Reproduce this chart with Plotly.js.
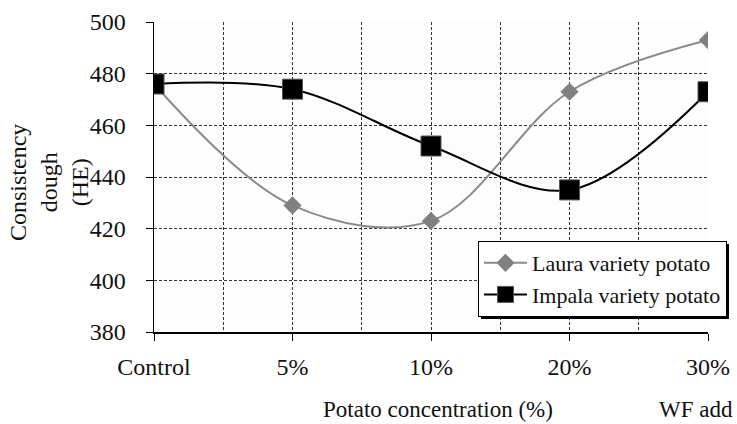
<!DOCTYPE html>
<html>
<head>
<meta charset="utf-8">
<script src="https://cdn.plot.ly/plotly-3.0.1.min.js"></script>
<style>
  html, body { margin: 0; padding: 0; background: #fff; }
  #chart { width: 737px; height: 424px; }
</style>
</head>
<body>
<div id="chart"></div>
<script>
// Dough consistency (HE) by potato flour concentration
const categories = ['Control', '5%', '10%', '20%', '30%'];
const lauraValues = [476, 429, 423, 473, 493];
const impalaValues = [476, 474, 452, 435, 473];
const yTickValues = [380, 400, 420, 440, 460, 480, 500];

const xIndex = categories.map((_, i) => i);
const serif = '"Liberation Serif", "Times New Roman", Times, serif';
const gridDash = '3px,2px';

const traces = [
  {
    name: 'Laura variety potato',
    legendgroup: 'laura',
    x: xIndex,
    y: lauraValues,
    mode: 'lines+markers',
    line: { color: '#8a8a8a', width: 2, shape: 'spline', smoothing: 1 },
    marker: { symbol: 'diamond', size: 14, color: '#808080' }
  },
  {
    name: 'Impala variety potato',
    legendgroup: 'impala',
    x: xIndex,
    y: impalaValues,
    mode: 'lines+markers',
    line: { color: '#000000', width: 2, shape: 'spline', smoothing: 1 },
    marker: { symbol: 'square', size: 20, color: '#000000', line: { color: '#555', width: 1 } }
  }
];

const plotL = 154, plotR = 708, plotT = 22, plotB = 332;
const W = 737, H = 424;
const pw = plotR - plotL, ph = plotB - plotT;
// legend anchor in paper units
const legX = (478 - plotL) / pw, legY = (plotB - 241) / ph;

const layout = {
  width: W, height: H,
  margin: { l: plotL, r: W - plotR, t: plotT, b: H - plotB, autoexpand: false },
  paper_bgcolor: '#ffffff',
  plot_bgcolor: '#fdfdfd',
  font: { family: serif, color: '#111', size: 22 },
  showlegend: true,
  xaxis: {
    type: 'linear',
    range: [0, xIndex.length - 1],
    tickvals: xIndex,
    ticktext: categories,
    ticks: 'outside', ticklen: 7, tickcolor: '#000', tickwidth: 1,
    showline: true, linecolor: '#000', linewidth: 1.5,
    showgrid: true, gridcolor: '#333', griddash: gridDash, gridwidth: 1,
    minor: { dtick: 0.5, tick0: 0, showgrid: true, gridcolor: '#333', griddash: gridDash, gridwidth: 1, ticks: '' },
    zeroline: false,
    automargin: false,
    tickfont: { family: serif, size: 24, color: '#111' },
    ticklabelstandoff: 6,
    fixedrange: true
  },
  yaxis: {
    range: [380, 500],
    tickvals: yTickValues,
    ticks: 'outside', ticklen: 7, tickcolor: '#000', tickwidth: 1,
    showline: true, linecolor: '#000', linewidth: 1.5,
    showgrid: true, gridcolor: '#333', griddash: gridDash, gridwidth: 1,
    zeroline: false,
    automargin: false,
    tickfont: { family: serif, size: 24, color: '#111' },
    ticklabelstandoff: 15,
    fixedrange: true
  },
  legend: {
    x: legX, y: legY, xanchor: 'left', yanchor: 'top',
    bgcolor: '#ffffff', bordercolor: '#000', borderwidth: 1,
    font: { family: serif, size: 22, color: '#111' },
    traceorder: 'grouped', tracegroupgap: 0,
    itemwidth: 43
  },
  annotations: [
    {
      text: 'Consistency<br>dough<br>(HE)', textangle: -90,
      xref: 'paper', yref: 'paper', x: (49 - plotL) / pw, y: (plotB - 183) / ph,
      xanchor: 'center', yanchor: 'middle', showarrow: false,
      font: { family: serif, size: 24, color: '#111' }
    },
    {
      text: 'Potato concentration (%)',
      xref: 'paper', yref: 'paper', x: (438 - plotL) / pw, y: (plotB - 409) / ph,
      xanchor: 'center', yanchor: 'middle', showarrow: false,
      font: { family: serif, size: 23, color: '#111' }
    },
    {
      text: 'WF add',
      xref: 'paper', yref: 'paper', x: (696 - plotL) / pw, y: (plotB - 409) / ph,
      xanchor: 'center', yanchor: 'middle', showarrow: false,
      font: { family: serif, size: 23, color: '#111' }
    }
  ]
};

// Drop shadow behind the legend box, sized from the rendered legend
Plotly.newPlot('chart', traces, layout, { displayModeBar: false, staticPlot: true }).then(gd => {
  const bg = gd.querySelector('.legend .bg');
  if (!bg) return;
  const box = bg.getBBox();
  const sh = 3;
  const x0 = legX + sh / pw, y1 = legY - sh / ph;
  return Plotly.relayout(gd, {
    shapes: [{
      type: 'rect', xref: 'paper', yref: 'paper', layer: 'above',
      x0: x0, x1: x0 + box.width / pw,
      y0: y1 - box.height / ph, y1: y1,
      fillcolor: '#000', line: { width: 0 }
    }]
  });
});
</script>
</body>
</html>
